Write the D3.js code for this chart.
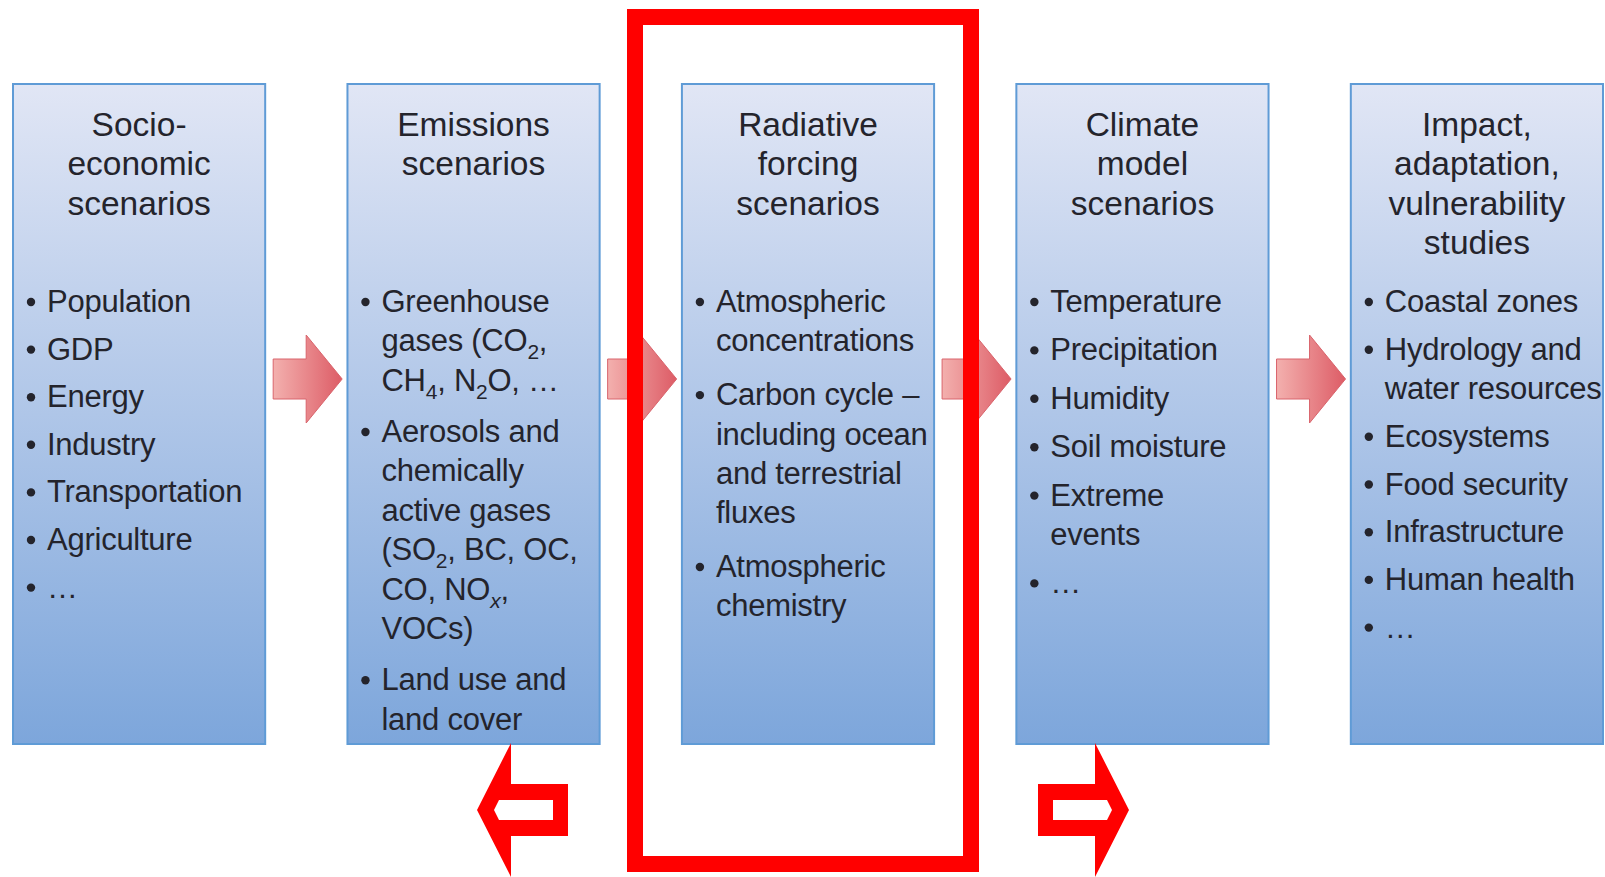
<!DOCTYPE html>
<html>
<head>
<meta charset="utf-8">
<script src="https://cdn.jsdelivr.net/npm/d3@7"></script>
<style>
html,body{margin:0;padding:0;background:#fff;}
svg{display:block;}
text{font-family:"Liberation Sans",Arial,Helvetica,sans-serif;fill:#24242c;}
</style>
</head>
<body>
<script>
// ---- data ----
const boxIds = ["socio", "emissions", "radiative", "climate", "impact"];
const boxTitles = [
  ["Socio-", "economic", "scenarios"],
  ["Emissions", "scenarios"],
  ["Radiative", "forcing", "scenarios"],
  ["Climate", "model", "scenarios"],
  ["Impact,", "adaptation,", "vulnerability", "studies"]
];
// each item is a list of lines; {..} marks a subscript
const boxItems = [
  [["Population"], ["GDP"], ["Energy"], ["Industry"], ["Transportation"], ["Agriculture"], ["…"]],
  [["Greenhouse", "gases (CO{2},", "CH{4}, N{2}O, …"],
   ["Aerosols and", "chemically", "active gases", "(SO{2}, BC, OC,", "CO, NO{x},", "VOCs)"],
   ["Land use and", "land cover"]],
  [["Atmospheric", "concentrations"],
   ["Carbon cycle –", "including ocean", "and terrestrial", "fluxes"],
   ["Atmospheric", "chemistry"]],
  [["Temperature"], ["Precipitation"], ["Humidity"], ["Soil moisture"], ["Extreme", "events"], ["…"]],
  [["Coastal zones"], ["Hydrology and", "water resources"], ["Ecosystems"], ["Food security"],
   ["Infrastructure"], ["Human health"], ["…"]]
];
// extra vertical gap between bullet items in each box
const itemGaps = [8.2, 11.8, 14.3, 9.0, 8.3];
// flow arrows link consecutive boxes
const flowLinks = [[0, 1], [1, 2], [2, 3], [3, 4]];
// outline arrows under the highlight frame
const sideArrows = [{dir: -1, tipX: 477}, {dir: 1, tipX: 1129}];

// ---- layout ----
const W = 1605, H = 877;
const boxTop = 83, boxBottom = 745;
const titleY0 = 136, lineH = 39.4, itemY0 = 312;

const svg = d3.select("body").append("svg").attr("width", W).attr("height", H);
svg.append("rect").attr("width", W).attr("height", H).attr("fill", "#fff");

const defs = svg.append("defs");
const bg = defs.append("linearGradient").attr("id", "boxGrad")
  .attr("x1", 0).attr("y1", 0).attr("x2", 0).attr("y2", 1);
bg.append("stop").attr("offset", "0%").attr("stop-color", "#e1e6f5");
bg.append("stop").attr("offset", "100%").attr("stop-color", "#7da6db");
const ag = defs.append("linearGradient").attr("id", "arrowGrad")
  .attr("x1", 0).attr("y1", 0).attr("x2", 1).attr("y2", 0);
ag.append("stop").attr("offset", "0%").attr("stop-color", "#f3b0ae");
ag.append("stop").attr("offset", "100%").attr("stop-color", "#dd5c66");

const x = d3.scaleBand().domain(boxIds).range([12, 1604]).paddingInner(0.24).paddingOuter(0);
const bw = x.bandwidth();

// boxes
svg.selectAll("rect.box").data(boxIds).join("rect")
  .attr("class", "box")
  .attr("x", d => x(d) + 1).attr("y", boxTop + 1)
  .attr("width", bw - 2).attr("height", boxBottom - boxTop - 2)
  .attr("fill", "url(#boxGrad)")
  .attr("stroke", "#5f9bd6").attr("stroke-width", 2);

// flow arrows
const arrowCy = 379;
const line = d3.line();
svg.selectAll("path.flow").data(flowLinks).join("path")
  .attr("class", "flow")
  .attr("d", ([a]) => {
    const x0 = x(boxIds[a]) + bw + 7, c = arrowCy;
    return line([[x0, c - 20], [x0 + 33, c - 20], [x0 + 33, c - 44], [x0 + 69, c],
                 [x0 + 33, c + 44], [x0 + 33, c + 20], [x0, c + 20]]) + "Z";
  })
  .attr("fill", "url(#arrowGrad)")
  .attr("stroke", "#d9646c").attr("stroke-width", 1);

// titles and items
boxIds.forEach((id, b) => {
  const g = svg.append("g");
  const cx = x(id) + bw / 2;
  g.selectAll("text.title").data(boxTitles[b]).join("text")
    .attr("class", "title")
    .attr("x", cx).attr("y", (d, i) => titleY0 + i * lineH)
    .attr("text-anchor", "middle")
    .attr("font-size", 33.5)
    .text(d => d);

  let li = 0;
  boxItems[b].forEach((item, k) => {
    item.forEach((ln, j) => {
      const y = itemY0 + li * lineH + k * itemGaps[b];
      if (j === 0) {
        g.append("circle").attr("cx", x(id) + 19).attr("cy", y - 10).attr("r", 4.2).attr("fill", "#24242c");
      }
      const t = g.append("text").attr("x", x(id) + 35).attr("y", y)
        .attr("font-size", 31).attr("letter-spacing", -0.25);
      const parts = ln.split(/(\{[^}]*\})/).filter(s => s.length);
      let sub = false;
      parts.forEach(p => {
        if (p[0] === "{") {
          const s = p.slice(1, -1);
          t.append("tspan").attr("dy", 8).attr("font-size", 21)
            .attr("font-style", /[a-z]/.test(s) ? "italic" : null).text(s);
          sub = true;
        } else {
          t.append("tspan").attr("dy", sub ? -8 : null).text(p);
          sub = false;
        }
      });
      li++;
    });
  });
});

// highlight frame
svg.append("rect")
  .attr("x", 635).attr("y", 17).attr("width", 336).attr("height", 847)
  .attr("fill", "none").attr("stroke", "#ff0000").attr("stroke-width", 16);

// outline side arrows
const cyS = 810;
sideArrows.forEach(a => {
  const d = a.dir, t = a.tipX;
  const X = v => t - d * v; // v measured back from the tip
  const outer = [[t, cyS], [X(34), 743], [X(34), 784], [X(91), 784], [X(91), 836], [X(34), 836], [X(34), 877]];
  const inner = [[X(17), cyS], [X(22), 800], [X(76), 800], [X(76), 820], [X(22), 820]];
  svg.append("path").attr("d", line(outer) + "Z").attr("fill", "#ff0000");
  svg.append("path").attr("d", line(inner) + "Z").attr("fill", "#ffffff");
});
</script>
</body>
</html>
